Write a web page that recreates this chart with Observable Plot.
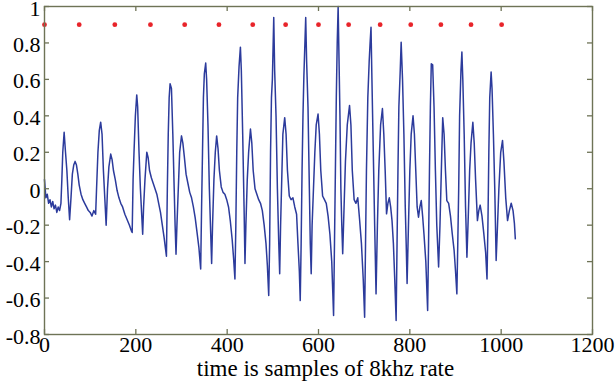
<!DOCTYPE html>
<html>
<head>
<meta charset="utf-8">
<script src="https://cdn.jsdelivr.net/npm/d3@7"></script>
<script src="https://cdn.jsdelivr.net/npm/@observablehq/plot@0.6"></script>
<style>
  html, body { margin: 0; padding: 0; background: #fff; overflow: hidden; }
</style>
</head>
<body>
<div id="chart"></div>
<script>
// Tick labels
const xTicks = [0, 200, 400, 600, 800, 1000, 1200];
const yTicks = [-0.8, -0.6, -0.4, -0.2, 0, 0.2, 0.4, 0.6, 0.8, 1];

// Pitch marks (red dots)
const markSamples = [0, 76, 154, 232, 307, 382, 456, 528, 600, 666, 735, 802, 868, 934, 1001];
const markLevel = [0.9, 0.9, 0.9, 0.9, 0.9, 0.9, 0.9, 0.9, 0.9, 0.9, 0.9, 0.9, 0.9, 0.9, 0.9];

// Waveform samples
const sampleIndex = [
  0, 3, 6, 9, 12, 15, 18, 21, 24, 27, 30, 33, 36,
  38, 40, 43, 46, 49, 52, 55, 58, 61, 64, 67, 70, 73, 76, 80, 84, 88, 92, 96, 100, 104, 108, 112,
  114, 117, 120, 123, 126, 129, 132, 135, 138, 141, 145, 148, 151, 155, 159, 163, 167, 171, 176, 181, 186, 190, 192,
  194, 196, 199, 202, 204, 207, 210, 213, 215, 217, 220, 224, 227, 230, 234, 238, 242, 246, 250, 254, 258, 262, 265, 267,
  269, 271, 273, 275, 278, 281, 284, 286, 288, 290, 293, 296, 300, 303, 306, 310, 314, 318, 322, 326, 330, 334, 338, 342,
  344, 346, 348, 350, 353, 355, 358, 361, 364, 366, 368, 371, 374, 377, 380, 383, 387, 391, 395, 399, 403, 407, 411, 414, 417,
  419, 421, 423, 426, 429, 431, 434, 437, 439, 441, 444, 447, 451, 454, 457, 461, 465, 469, 473, 477, 481, 485, 488, 491,
  493, 495, 497, 499, 502, 504, 507, 510, 513, 515, 517, 520, 522, 526, 529, 532, 536, 540, 544, 548, 552, 555, 558, 560,
  562, 564, 566, 568, 572, 574, 577, 580, 582, 584, 586, 589, 592, 595, 599, 602, 605, 609, 613, 617, 621, 625, 629, 633,
  635, 637, 639, 641, 643, 645, 647, 649, 651, 653, 656, 659, 663, 668, 671, 674, 678, 682, 686, 690, 694, 698, 701,
  703, 705, 708, 711, 713, 715, 717, 720, 723, 726, 729, 732, 736, 740, 743, 746, 749, 752, 755, 758, 761, 764, 767, 770,
  772, 774, 776, 779, 781, 784, 787, 790, 792, 794, 797, 800, 803, 807, 810, 813, 816, 819, 822, 825, 828, 831, 835, 839,
  841, 843, 845, 847, 850, 853, 856, 859, 863, 866, 869, 872, 875, 878, 881, 885, 889, 893, 897, 900, 903,
  905, 907, 909, 912, 914, 916, 919, 922, 925, 928, 931, 934, 938, 941, 944, 948, 951, 954, 958, 962, 966, 969,
  971, 973, 975, 978, 980, 983, 986, 989, 992, 995, 999, 1003, 1006, 1010, 1014, 1018, 1022, 1026, 1029, 1031
];
const sampleValue = [
  0.05, -0.05, -0.03, -0.08, -0.06, -0.1, -0.07, -0.11, -0.09, -0.13, -0.1, -0.12, -0.08,
  0.05, 0.2, 0.31, 0.2, 0.1, -0.05, -0.17, -0.05, 0.08, 0.13, 0.15, 0.13, 0.08, 0.02, -0.03, -0.06, -0.08, -0.1, -0.12, -0.13, -0.15, -0.12, -0.14,
  0.0, 0.2, 0.32, 0.365, 0.3, 0.1, -0.05, -0.2, 0.0, 0.12, 0.19, 0.16, 0.1, 0.05, -0.01, -0.05, -0.08, -0.1, -0.14, -0.17, -0.2, -0.23, -0.24,
  0.05, 0.2, 0.4, 0.515, 0.45, 0.2, 0.0, -0.15, -0.25, -0.1, 0.05, 0.2, 0.17, 0.1, 0.06, 0.03, 0.0, -0.03, -0.08, -0.13, -0.2, -0.27, -0.33, -0.37,
  0.0, 0.3, 0.5, 0.576, 0.55, 0.3, 0.0, -0.2, -0.36, -0.2, 0.0, 0.2, 0.29, 0.25, 0.18, 0.08, 0.03, -0.02, -0.05, -0.1, -0.16, -0.24, -0.32, -0.44,
  -0.1, 0.2, 0.5, 0.63, 0.69, 0.6, 0.35, 0.0, -0.25, -0.41, -0.2, 0.05, 0.2, 0.29, 0.22, 0.1, 0.01, -0.02, -0.03, -0.06, -0.1, -0.18, -0.28, -0.38, -0.495,
  -0.2, 0.2, 0.5, 0.67, 0.777, 0.65, 0.3, -0.1, -0.41, -0.2, 0.05, 0.2, 0.328, 0.25, 0.1, 0.0, -0.03, -0.06, -0.08, -0.12, -0.2, -0.3, -0.42, -0.586,
  -0.3, 0.2, 0.5, 0.6, 0.94, 0.65, 0.4, 0.0, -0.3, -0.467, -0.2, 0.1, 0.3, 0.39, 0.3, 0.1, -0.04, -0.06, -0.05, -0.1, -0.14, -0.3, -0.45, -0.614,
  -0.3, 0.1, 0.4, 0.62, 0.94, 0.7, 0.45, 0.0, -0.3, -0.467, -0.2, 0.0, 0.2, 0.35, 0.41, 0.3, 0.1, -0.04, -0.06, -0.08, -0.15, -0.25, -0.4, -0.696,
  -0.3, 0.1, 0.5, 0.8, 1.0, 0.7, 0.4, 0.0, -0.2, -0.357, -0.1, 0.15, 0.35, 0.457, 0.35, 0.1, -0.06, -0.08, -0.05, -0.17, -0.3, -0.5, -0.705,
  -0.3, 0.1, 0.5, 0.7, 0.8, 0.886, 0.6, 0.2, -0.2, -0.577, -0.2, 0.1, 0.35, 0.44, 0.3, 0.1, -0.138, -0.08, -0.05, -0.1, -0.175, -0.3, -0.5, -0.723,
  -0.3, 0.1, 0.45, 0.65, 0.804, 0.6, 0.3, -0.1, -0.3, -0.52, -0.2, 0.1, 0.3, 0.4, 0.3, 0.1, -0.1, -0.156, -0.1, -0.065, -0.15, -0.25, -0.4, -0.668,
  -0.3, 0.1, 0.45, 0.686, 0.68, 0.45, 0.1, -0.2, -0.43, -0.2, 0.1, 0.39, 0.3, 0.1, -0.065, -0.08, -0.15, -0.25, -0.34, -0.45, -0.577,
  -0.3, 0.0, 0.4, 0.65, 0.75, 0.6, 0.3, -0.1, -0.376, -0.15, 0.1, 0.25, 0.365, 0.25, 0.05, -0.175, -0.12, -0.09, -0.15, -0.246, -0.35, -0.495,
  -0.2, 0.2, 0.5, 0.64, 0.55, 0.3, 0.0, -0.394, -0.2, 0.0, 0.2, 0.265, 0.15, -0.05, -0.175, -0.12, -0.08, -0.12, -0.19, -0.275
];

const xLabel = "time is samples of 8khz rate";

const wave = sampleIndex.map((t, i) => ({t, v: sampleValue[i]}));
const marks = markSamples.map((t, i) => ({t, v: markLevel[i]}));

const W = 616, H = 382;
const mL = 44, mR = 24, mT = 6, mB = 48;
const frameW = W - mL - mR, frameH = H - mT - mB;
const axisColor = "#6e7356";
const tickLen = 5;
const serif = "Liberation Serif";

const chart = Plot.plot({
  width: W,
  height: H,
  marginLeft: mL,
  marginRight: mR,
  marginTop: mT,
  marginBottom: mB,
  style: "font-family: 'Liberation Serif', serif; font-size: 22px; background: #fff; color: #000; overflow: visible;",
  x: {domain: [0, 1200], axis: null},
  y: {domain: [-0.8, 1], axis: null},
  marks: [
    Plot.line(wave, {x: "t", y: "v", stroke: "#2c3b9c", strokeWidth: 1.5}),
    Plot.dot(marks, {x: "t", y: "v", r: 2.4, fill: "#e8242a", stroke: null}),
    // inward ticks on all sides
    Plot.tickX(xTicks, {x: d => d, stroke: axisColor, strokeWidth: 1.3, insetTop: frameH - tickLen}),
    Plot.tickX(xTicks, {x: d => d, stroke: axisColor, strokeWidth: 1.3, insetBottom: frameH - tickLen}),
    Plot.tickY(yTicks, {y: d => d, stroke: axisColor, strokeWidth: 1.3, insetRight: frameW - tickLen}),
    Plot.tickY(yTicks, {y: d => d, stroke: axisColor, strokeWidth: 1.3, insetLeft: frameW - tickLen}),
    Plot.frame({stroke: axisColor, strokeWidth: 1.4}),
    // tick labels
    Plot.text(xTicks, {x: d => d, text: d => String(d), frameAnchor: "bottom", lineAnchor: "top", dy: 2, fontSize: 22, fontFamily: serif, fill: "#000"}),
    Plot.text(yTicks, {y: d => d, text: d => String(d), frameAnchor: "left", textAnchor: "end", lineAnchor: "middle", dx: -4, dy: 2, fontSize: 22, fontFamily: serif, fill: "#000"}),
    // axis title
    Plot.text([xLabel], {text: d => d, frameAnchor: "bottom", dx: 7, dy: 34, lineAnchor: "middle", fontSize: 23, fontFamily: serif, fill: "#000"})
  ]
});
d3.select(chart).selectAll("text")
  .style("font-family", "'Liberation Serif', serif")
  .style("font-variant", "normal");
document.getElementById("chart").appendChild(chart);
</script>
</body>
</html>
